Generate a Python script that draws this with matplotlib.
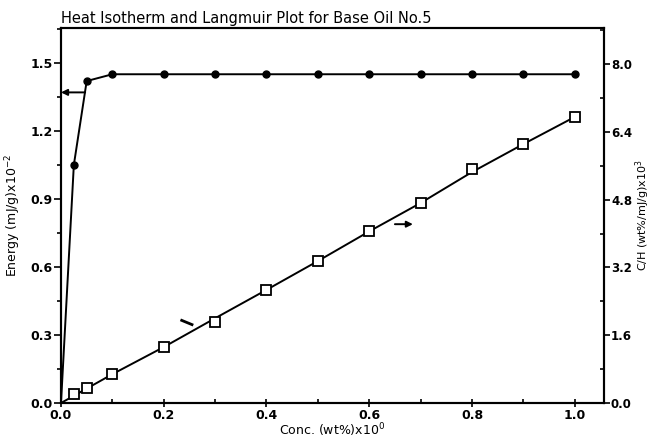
import matplotlib
matplotlib.use("Agg")
import matplotlib.pyplot as plt
from matplotlib.ticker import MultipleLocator, FixedLocator, FixedFormatter

plt.rcParams['font.family'] = ['DejaVu Sans']

# Heat isotherm (left axis)
heat_x = [0.0, 0.025, 0.05, 0.1, 0.2, 0.3, 0.4, 0.5, 0.6, 0.7, 0.8, 0.9, 1.0]
heat_y = [0.0, 1.05, 1.42, 1.45, 1.45, 1.45, 1.45, 1.45, 1.45, 1.45, 1.45, 1.45, 1.45]

# Langmuir plot (right axis) measured points
lang_x = [0.025, 0.05, 0.1, 0.2, 0.3, 0.4, 0.5, 0.6, 0.7, 0.8, 0.9, 1.0]
lang_y = [0.21, 0.35, 0.68, 1.32, 1.91, 2.67, 3.35, 4.05, 4.72, 5.52, 6.11, 6.75]
# Langmuir drawn line
lang_line_x = [0.0, 0.1, 0.2, 0.3, 0.4, 0.5, 0.6, 0.7, 0.8, 0.9, 1.0]
lang_line_y = [0.0, 0.68, 1.32, 2.0, 2.67, 3.35, 4.05, 4.72, 5.45, 6.11, 6.75]

x_ticks = [0.0, 0.2, 0.4, 0.6, 0.8, 1.0]
x_labels = ['0.0', '0.2', '0.4', '0.6', '0.8', '1.0']
left_ticks = [0.0, 0.3, 0.6, 0.9, 1.2, 1.5]
left_labels = ['0.0', '0.3', '0.6', '0.9', '1.2', '1.5']
right_ticks = [0.0, 1.6, 3.2, 4.8, 6.4, 8.0]
right_labels = ['0.0', '1.6', '3.2', '4.8', '6.4', '8.0']

title = 'Heat Isotherm and Langmuir Plot for Base Oil No.5'

fig = plt.figure(figsize=(6.54, 4.44), dpi=100)
ax = fig.add_axes([61/654, 41/444, (604-61)/654, (403-28)/444])
ax2 = ax.twinx()

lw_sp = 1.5
for a in (ax, ax2):
    for s in a.spines.values():
        s.set_linewidth(lw_sp)

ax.set_xlim(0, 1.057)
ax.set_ylim(0, 1.654)
ax2.set_ylim(0, 8.85)

ax.plot(heat_x, heat_y, color='black', lw=1.4, marker='o', ms=5,
        markevery=list(range(1, len(heat_x))), zorder=3)
ax2.plot(lang_line_x, lang_line_y, color='black', lw=1.4, zorder=3)
ax2.plot(lang_x, lang_y, ls='none', marker='s', ms=7, mfc='white',
         mec='black', mew=1.3, zorder=4)

# arrows indicating axes
ax.annotate('', xy=(0.0, 1.37), xytext=(0.047, 1.37),
            arrowprops=dict(arrowstyle='-|>', color='black', lw=1.4,
                            mutation_scale=9, shrinkA=0, shrinkB=0))
ax2.annotate('', xy=(0.685, 4.22), xytext=(0.65, 4.22),
             arrowprops=dict(arrowstyle='-|>', color='black', lw=1.4,
                             mutation_scale=9, shrinkA=0, shrinkB=0))
ax2.plot([0.235, 0.255], [1.95, 1.85], color='black', lw=2)

tick_fs = 9
ax.xaxis.set_major_locator(FixedLocator(x_ticks))
ax.xaxis.set_major_formatter(FixedFormatter(x_labels))
ax.xaxis.set_minor_locator(MultipleLocator(0.1))
ax.yaxis.set_major_locator(FixedLocator(left_ticks))
ax.yaxis.set_major_formatter(FixedFormatter(left_labels))
ax.yaxis.set_minor_locator(MultipleLocator(0.15))
ax2.yaxis.set_major_locator(FixedLocator(right_ticks))
ax2.yaxis.set_major_formatter(FixedFormatter(right_labels))
ax2.yaxis.set_minor_locator(MultipleLocator(0.8))

ax.tick_params(axis='x', which='major', direction='inout', length=6, width=1.2,
               labelsize=tick_fs, pad=1)
ax.tick_params(axis='x', which='minor', direction='in', length=3, width=1.2)
ax.tick_params(axis='y', which='major', direction='out', length=5, width=1.2,
               labelsize=tick_fs, pad=1)
ax.tick_params(axis='y', which='minor', direction='out', length=3, width=1.2)
ax.tick_params(top=False, which='both')
ax2.tick_params(axis='y', which='major', direction='out', length=4, width=1.2,
                labelsize=8.5, pad=1)
ax2.tick_params(axis='y', which='minor', direction='in', length=3, width=1.2)
for lab in ax.get_xticklabels() + ax.get_yticklabels() + ax2.get_yticklabels():
    lab.set_fontweight('bold')

ax.set_xlabel('Conc. (wt%)x10$^{0}$', fontsize=9, labelpad=0)
ax.set_ylabel('Energy (mJ/g)x10$^{-2}$', fontsize=9, labelpad=5)
ax2.set_ylabel('C/H (wt%/mJ/g)x10$^{3}$', fontsize=8, labelpad=1)

ax.text(0.0, 1.005, title, transform=ax.transAxes, fontsize=10.5,
        ha='left', va='bottom')

fig.savefig('out.png', dpi=100)
